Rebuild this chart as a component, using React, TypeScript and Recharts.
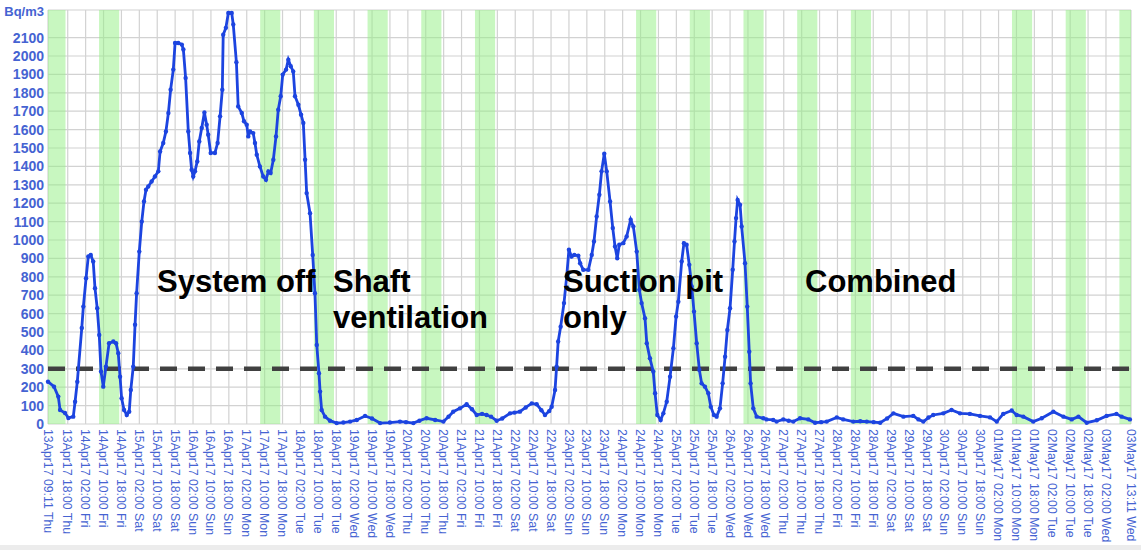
import {
  CartesianGrid,
  Line,
  LineChart,
  ReferenceArea,
  ReferenceLine,
  XAxis,
  YAxis,
} from "recharts";

// radon readings, [hours since 13Apr17 09:11, Bq/m3], one list per phase
const systemOff: [number, number][] = [
  [0, 230], [2.7, 203], [4.6, 149], [5.4, 76], [7.6, 60], [9.1, 33], [11.3, 40], [12.1, 121],
  [13.1, 230], [15.1, 522], [15.8, 638], [17, 792], [18, 910], [19.1, 919], [20.2, 883], [21, 738],
  [22, 629], [22.9, 484], [23.7, 285], [24.7, 203], [25.9, 312], [27.3, 439], [29.2, 448], [30.4, 439],
  [31.4, 385], [32.2, 257], [32.9, 140], [34, 76], [35.2, 49], [36.3, 67], [37, 185], [38.1, 312],
  [38.9, 539], [39.6, 711], [40.8, 937], [41.9, 1100], [42.9, 1209], [43.8, 1273], [44.8, 1291],
  [46.3, 1318], [47.8, 1345], [49.3, 1373], [50.1, 1481], [51.5, 1527], [52.7, 1590], [53.8, 1690],
  [54.8, 1817], [56, 1926], [56.8, 2071], [58.2, 2071], [59.8, 2062], [60.5, 2035], [61.5, 1881],
  [62.7, 1590], [63.5, 1473], [64.2, 1382], [64.9, 1345], [65.7, 1373], [66.7, 1427], [67.6, 1536],
  [68.7, 1609], [69.9, 1693], [70.9, 1627], [71.6, 1572], [72.7, 1473], [74.6, 1473], [75.8, 1527],
  [76.9, 1672], [77.9, 1817], [78.3, 2116], [79.5, 2153], [80.6, 2234], [82.1, 2234], [82.8, 2171],
  [84.2, 1966], [85, 1726], [86.6, 1690], [87.6, 1645], [88.8, 1627], [89.5, 1563], [90.3, 1590],
  [91.7, 1581], [92.5, 1527], [93.3, 1463], [94.7, 1400], [96.2, 1345], [97.4, 1327], [98.5, 1373],
  [99.5, 1364], [100.7, 1436], [101.9, 1563], [102.9, 1708], [104, 1781], [104.9, 1899], [106.4, 1926],
  [107.4, 1980], [108.5, 1944], [109.6, 1916], [110.4, 1781], [111.9, 1735], [113.1, 1681],
  [114.1, 1636], [114.9, 1436], [115.6, 1255], [117.1, 1146], [118.3, 919], [119.3, 711],
];

const shaftVentilation: [number, number][] = [
  [120.1, 430], [121.1, 276], [121.6, 176], [122.3, 76], [123.8, 40], [126, 18], [129, 5], [132, 8],
  [135, 13], [138, 22], [141.7, 44], [144.8, 30], [148.4, 5], [152.8, 8], [157.3, 13], [160, 10],
  [163.3, 5], [166, 18], [169.2, 31], [173, 22], [176.7, 13], [179, 40], [181.1, 67], [184.1, 85],
  [187.1, 107], [189.5, 80], [191.6, 49], [194, 55], [196, 49], [198, 40], [200.5, 18], [203, 30],
  [206.5, 58], [208.5, 62], [210.9, 67], [213.5, 90], [216.2, 112], [218.4, 107], [220.5, 75],
  [222.1, 49], [224, 70], [225.1, 94],
];

const suctionPit: [number, number][] = [
  [226.6, 185], [227.3, 312], [228, 448], [229.1, 529], [230.6, 657], [231.8, 801], [232.8, 947],
  [234, 910], [235.2, 919], [237, 915], [237.8, 874], [239.2, 838], [241.5, 838], [243, 919],
  [244, 992], [245.2, 1128], [246.4, 1246], [247.4, 1373], [248.6, 1469], [249.7, 1373], [251.2, 1209],
  [252.4, 1065], [253.4, 965], [254.4, 901], [255.3, 974], [257.1, 983], [258.6, 1019], [260.4, 1110],
  [261.6, 1073], [263.1, 937], [264.3, 729], [265.3, 657], [266.8, 575], [267.6, 439], [269, 357],
  [270.5, 285], [271.3, 167], [272.3, 49], [273.8, 22], [275, 58], [276.5, 121], [278, 257],
  [279.5, 412], [280.7, 584], [281.7, 665], [283.2, 883], [284.2, 983], [285.4, 974], [286.6, 865],
  [287.7, 747], [288.7, 611], [289.9, 439], [291.1, 294], [292.1, 221], [293.6, 203], [295.1, 167],
  [296.2, 94], [297.6, 49], [298.8, 40], [300.3, 85], [301.5, 221], [302.6, 366], [303.6, 511],
  [304.8, 629], [306, 838], [306.8, 992], [307.5, 1119], [308.2, 1218], [309.3, 1191], [310, 1073],
  [311.5, 874], [312.5, 638], [313.4, 393],
];

const combined: [number, number][] = [
  [314, 221], [315.2, 85], [316.7, 40], [319.7, 31], [321.1, 25], [324.1, 22], [325.6, 13],
  [328.6, 25], [331, 18], [333.1, 13], [336.1, 31], [339.8, 25], [342.8, 7], [345.5, 10], [348, 13],
  [352.5, 36], [355.4, 25], [359.9, 13], [363, 15], [365.9, 13], [369, 10], [371.9, 7], [375, 30],
  [377.8, 58], [382.3, 40], [386.7, 44], [389, 25], [391.2, 13], [393.5, 35], [395.6, 49], [400.1, 58],
  [403.8, 76], [407.6, 58], [412, 55], [416.5, 44], [421, 36], [424, 13], [426.9, 55], [430.7, 73],
  [432.9, 49], [435.9, 40], [440.3, 13], [444.1, 31], [449.3, 67], [453.8, 40], [457.5, 25],
  [460.5, 40], [464.2, 7], [468.7, 20], [473.1, 44], [477.5, 55], [479.8, 40], [483.5, 25],
];

const days: [string, string][] = [
  ["13Apr17", "Thu"], ["14Apr17", "Fri"], ["15Apr17", "Sat"], ["16Apr17", "Sun"], ["17Apr17", "Mon"],
  ["18Apr17", "Tue"], ["19Apr17", "Wed"], ["20Apr17", "Thu"], ["21Apr17", "Fri"], ["22Apr17", "Sat"],
  ["23Apr17", "Sun"], ["24Apr17", "Mon"], ["25Apr17", "Tue"], ["26Apr17", "Wed"], ["27Apr17", "Thu"],
  ["28Apr17", "Fri"], ["29Apr17", "Sat"], ["30Apr17", "Sun"], ["01May17", "Mon"], ["02May17", "Tue"],
  ["03May17", "Wed"],
];
const tickTimes = ["02:00", "10:00", "18:00"];
const yTicks = [0, 100, 200, 300, 400, 500, 600, 700, 800, 900, 1000, 1100, 1200, 1300, 1400, 1500,
  1600, 1700, 1800, 1900, 2000, 2100, 2250];
const limit = 300;

const START_H = 9 + 11 / 60;
const END_H = 484;

const BLUE = "#1c44e0";
const TICK_BLUE = "#4563d2";
const FONT = "'Liberation Sans', Arial, sans-serif";

function labelHours(label: string) {
  const m = label.match(/^(\d{2})(Apr|May)17 (\d{2}):(\d{2})/)!;
  const day = Number(m[1]) + (m[2] === "May" ? 30 : 0) - 13;
  return day * 24 + Number(m[3]) + Number(m[4]) / 60 - START_H;
}

const tickLabels: string[] = [`${days[0][0]} 09:11 ${days[0][1]}`, `${days[0][0]} 18:00 ${days[0][1]}`];
days.slice(1, -1).forEach(([d, w]) => tickTimes.forEach((t) => tickLabels.push(`${d} ${t} ${w}`)));
tickLabels.push(`03May17 02:00 Wed`, `03May17 13:11 Wed`);

const tickHours = tickLabels.map(labelHours);
const labelByHour = new Map(tickHours.map((h, i) => [h, tickLabels[i]]));

// working hours 08:00-17:00 on weekdays
const bands = days
  .map(([, w], i) => ({ i, w }))
  .filter(({ w }) => w !== "Sat" && w !== "Sun")
  .map(({ i }) => [Math.max(0, i * 24 + 8 - START_H), Math.min(END_H, i * 24 + 17 - START_H)]);

const data = [...systemOff, ...shaftVentilation, ...suctionPit, ...combined].map(([h, v]) => ({ h, v }));

function XTick({ x, y, payload }: any) {
  return (
    <text
      transform={`translate(${x},${y}) rotate(90)`}
      dy="0.36em"
      textAnchor="start"
      fill={TICK_BLUE}
      fontSize={12.3}
      fontFamily={FONT}
    >
      {labelByHour.get(payload.value) ?? ""}
    </text>
  );
}

function YTick({ x, y, payload }: any) {
  const unit = payload.value === 2250;
  return (
    <text
      x={x}
      y={y + (unit ? 1 : 0)}
      dy="0.355em"
      textAnchor="end"
      fill={TICK_BLUE}
      fontSize={unit ? 13 : 14}
      fontWeight="bold"
      fontFamily={FONT}
    >
      {unit ? "Bq/m3" : payload.value}
    </text>
  );
}

const notes = [
  { text: "System off", x: 157, y: 292 },
  { text: "Shaft", x: 333, y: 292 },
  { text: "ventilation", x: 333, y: 328 },
  { text: "Suction pit", x: 563, y: 292 },
  { text: "only", x: 563, y: 328 },
  { text: "Combined", x: 805, y: 292 },
];

export default function App() {
  return (
    <div style={{ position: "absolute", left: 0, top: 0, width: 1141, height: 550, background: "#fff", overflow: "hidden" }}>
      <LineChart width={1141} height={550} data={data} margin={{ top: 10, right: 10, left: 0, bottom: 0 }}>
        {bands.map(([a, b], i) => (
          <ReferenceArea key={i} x1={a} x2={b} fill="#91ef81" fillOpacity={0.5} stroke="none" />
        ))}
        <CartesianGrid stroke="#d2d2d2" strokeWidth={1.2} />
        <XAxis
          type="number"
          dataKey="h"
          domain={[0, END_H]}
          ticks={tickHours}
          interval={0}
          height={126}
          tickSize={0}
          tickMargin={5}
          axisLine={false}
          tick={(p: any) => <XTick {...p} />}
        />
        <YAxis
          type="number"
          domain={[0, 2250]}
          ticks={yTicks}
          interval={0}
          width={48}
          tickSize={0}
          tickMargin={4}
          axisLine={false}
          tick={(p: any) => <YTick {...p} />}
        />
        <ReferenceLine y={limit} stroke="#404040" strokeWidth={4.5} strokeDasharray="17 11" />
        <Line
          type="linear"
          dataKey="v"
          stroke={BLUE}
          strokeWidth={2.8}
          dot={{ r: 2.2, fill: BLUE, stroke: BLUE, strokeWidth: 0 }}
          isAnimationActive={false}
        />
      </LineChart>
      <svg width={1141} height={550} style={{ position: "absolute", left: 0, top: 0, pointerEvents: "none" }}>
        {notes.map((n) => (
          <text key={n.text} x={n.x} y={n.y} fontFamily={FONT} fontWeight="bold" fontSize={31} fill="#000">
            {n.text}
          </text>
        ))}
      </svg>
      <div style={{ position: "absolute", left: 0, top: 545, width: 1141, height: 5, background: "#ececec" }} />
    </div>
  );
}
